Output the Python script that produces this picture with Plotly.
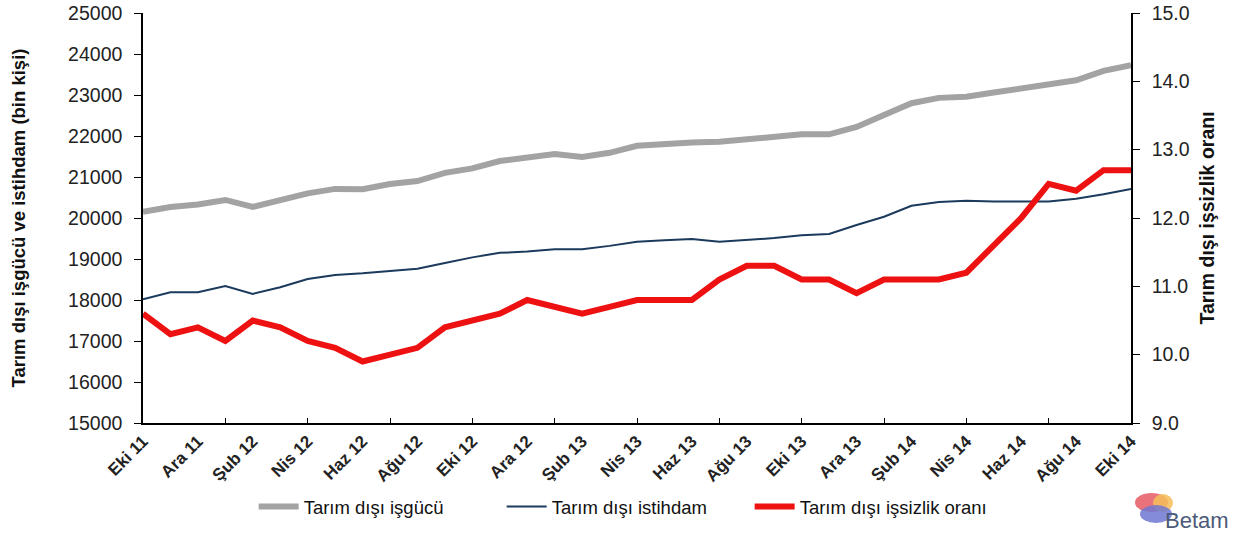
import plotly.graph_objects as go

months = ["Eki 11", "Kas 11", "Ara 11", "Oca 12", "Şub 12", "Mar 12", "Nis 12", "May 12",
          "Haz 12", "Tem 12", "Ağu 12", "Eyl 12", "Eki 12", "Kas 12", "Ara 12", "Oca 13",
          "Şub 13", "Mar 13", "Nis 13", "May 13", "Haz 13", "Tem 13", "Ağu 13", "Eyl 13",
          "Eki 13", "Kas 13", "Ara 13", "Oca 14", "Şub 14", "Mar 14", "Nis 14", "May 14",
          "Haz 14", "Tem 14", "Ağu 14", "Eyl 14", "Eki 14"]

labor_force = [20150, 20270, 20330, 20440, 20270, 20440, 20600, 20710, 20700, 20830,
               20900, 21100, 21210, 21390, 21490, 21560, 21490, 21590, 21760, 21810,
               21840, 21860, 21930, 21980, 22040, 22040, 22220, 22510, 22800, 22930,
               22960, 23060, 23160, 23280, 23360, 23590, 23730]

employment = [18020, 18190, 18190, 18340, 18150, 18310, 18510, 18610, 18650, 18710,
              18760, 18900, 19040, 19150, 19180, 19240, 19240, 19320, 19420, 19460,
              19490, 19420, 19470, 19510, 19580, 19610, 19830, 20030, 20300, 20390,
              20420, 20400, 20400, 20400, 20470, 20580, 20710]

unemp_rate = [10.6, 10.3, 10.4, 10.2, 10.5, 10.4, 10.2, 10.1, 9.9, 10.0,
              10.1, 10.4, 10.5, 10.6, 10.8, 10.7, 10.6, 10.7, 10.8, 10.8,
              10.8, 11.1, 11.3, 11.3, 11.1, 11.1, 10.9, 11.1, 11.1, 11.1,
              11.2, 11.6, 12.0, 12.5, 12.4, 12.7, 12.7]

label_months = months[::2]
tick_months = months[::3]
left_ticks = list(range(15000, 25001, 1000))
right_ticks = [9, 10, 11, 12, 13, 14, 15]

FONT = "Liberation Sans, Arial, sans-serif"

fig = go.Figure()
fig.add_trace(go.Scatter(x=months, y=labor_force, name="Tarım dışı işgücü", mode="lines",
                         line=dict(color="#a3a3a3", width=6)))
fig.add_trace(go.Scatter(x=months, y=employment, name="Tarım dışı istihdam", mode="lines",
                         line=dict(color="#1b3a5c", width=2)))
fig.add_trace(go.Scatter(x=months, y=unemp_rate, name="Tarım dışı işsizlik oranı", mode="lines",
                         line=dict(color="#ee1111", width=6), yaxis="y2"))
# helper trace for tick marks axis
fig.add_trace(go.Scatter(x=months, y=labor_force, xaxis="x2", mode="lines",
                         line=dict(width=0), showlegend=False, hoverinfo="skip", opacity=0))

fig.update_layout(
    width=1234, height=535,
    margin=dict(l=143, r=103, t=13, b=112, autoexpand=False),
    plot_bgcolor="white", paper_bgcolor="white",
    font=dict(family=FONT, color="#222"),
    xaxis=dict(type="category", categoryarray=months, range=[0, 36], automargin=False,
               tickmode="array", tickvals=label_months, ticktext=label_months,
               tickangle=-45, ticks="", showline=True, linecolor="black", linewidth=1.5,
               showgrid=False, zeroline=False,
               tickfont=dict(size=17, weight="bold", color="#222")),
    xaxis2=dict(type="category", categoryarray=months, range=[0, 36], overlaying="x",
                anchor="y", side="bottom", tickmode="array", tickvals=tick_months,
                showticklabels=False, ticks="inside", ticklen=5, tickcolor="black",
                automargin=False, showline=False, showgrid=False, zeroline=False),
    yaxis=dict(range=[15000, 25000], tickmode="array", tickvals=left_ticks,
               ticktext=[str(v) for v in left_ticks], automargin=False,
               ticks="outside", ticklen=7, tickcolor="black", showline=True,
               linecolor="black", linewidth=1.5, showgrid=False, zeroline=False,
               tickfont=dict(size=19.5, color="#222"), ticklabelstandoff=8,
               title=dict(text="Tarım dışı işgücü ve istihdam (bin kişi)",
                          font=dict(size=18.5, weight="bold", color="#111"), standoff=38)),
    yaxis2=dict(range=[9, 15], overlaying="y", side="right", tickmode="array",
                tickvals=right_ticks, ticktext=[f"{v:.1f}" for v in right_ticks],
                automargin=False,
                ticks="outside", ticklen=7, tickcolor="black", showline=True,
                linecolor="black", linewidth=1.5, showgrid=False, zeroline=False,
                tickfont=dict(size=19.5, color="#222"), ticklabelstandoff=8,
                title=dict(text="Tarım dışı işsizlik oranı",
                           font=dict(size=19.5, weight="bold", color="#111"), standoff=12)),
    legend=dict(orientation="h", x=0.112, xanchor="left", y=-0.205, yanchor="middle",
                font=dict(size=18.5, color="#111"), bgcolor="rgba(0,0,0,0)",
                itemwidth=40, entrywidth=193, entrywidthmode="pixels"),
    showlegend=True,
)

# Betam logo (approximation)
def px2paper(xp, yp):
    return (xp - 143) / 988, (423 - yp) / 410

shapes = []
for (x0, y0, x1, y1, col) in [
    (1135, 493, 1168, 512, "rgba(230,90,100,0.85)"),
    (1153, 494, 1173, 512, "rgba(245,190,90,0.85)"),
    (1140, 505, 1172, 523, "rgba(110,120,210,0.85)"),
]:
    a0, b0 = px2paper(x0, y1)
    a1, b1 = px2paper(x1, y0)
    shapes.append(dict(type="circle", xref="paper", yref="paper", x0=a0, y0=b0, x1=a1, y1=b1,
                       fillcolor=col, line=dict(width=0), layer="above"))
fig.update_layout(shapes=shapes)
bx, by = px2paper(1197, 520)
fig.add_annotation(xref="paper", yref="paper", x=bx, y=by, text="Betam", showarrow=False,
                   font=dict(size=22, color="#4c5a78", family=FONT), xanchor="center",
                   yanchor="middle")

fig.write_html("out.html", config={"displayModeBar": False},
               post_script="document.body.style.margin='0';")
